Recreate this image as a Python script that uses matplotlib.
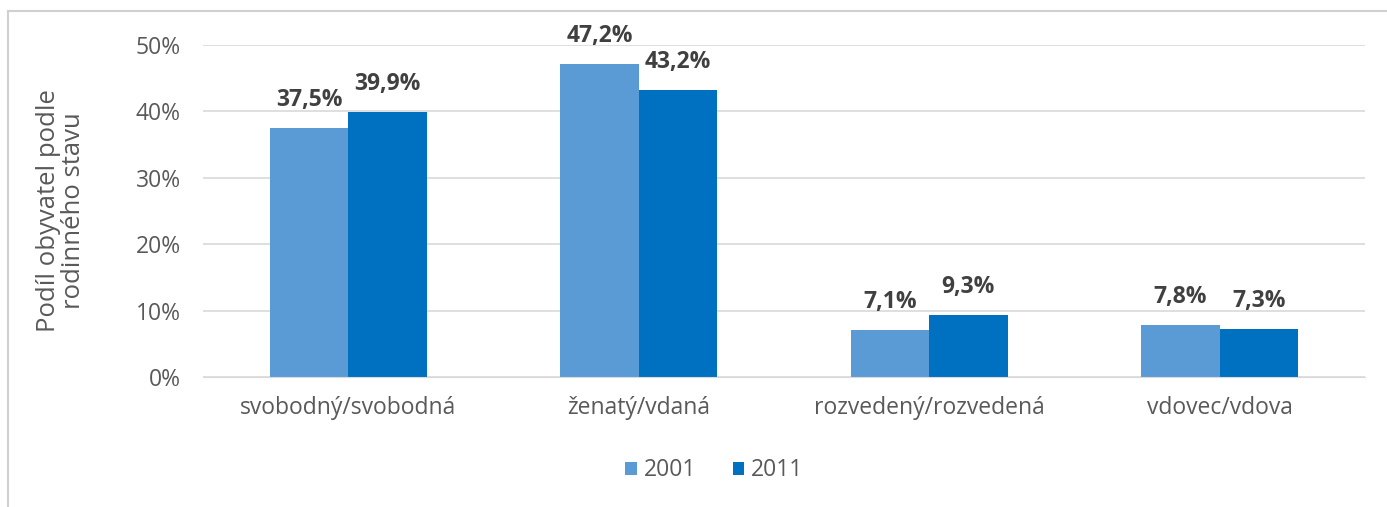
import numpy as np
import matplotlib
matplotlib.use('Agg')
import matplotlib.pyplot as plt
from matplotlib.lines import Line2D

categories = ['svobodný/svobodná', 'ženatý/vdaná', 'rozvedený/rozvedená', 'vdovec/vdova']
vals_2001 = [37.5, 47.2, 7.1, 7.8]
vals_2011 = [39.9, 43.2, 9.3, 7.3]
series = ['2001', '2011']
yticks = [0, 10, 20, 30, 40, 50]

plt.rcParams['font.family'] = ['Open Sans', 'DejaVu Sans']
c01 = '#5b9bd5'
c11 = '#0070c0'
txt = '#595959'

fig = plt.figure(figsize=(13.87, 5.07), dpi=100)
ax = fig.add_axes([0.1464, 0.2564, 0.8376, 0.6548])

x = np.arange(len(categories))
w = 0.27
b1 = ax.bar(x - w/2, vals_2001, w, color=c01, label=series[0])
b2 = ax.bar(x + w/2, vals_2011, w, color=c11, label=series[1])

for bars, vals in [(b1, vals_2001), (b2, vals_2011)]:
    for r, v in zip(bars, vals):
        ax.text(r.get_x() + r.get_width()/2, v + 2.4, ('%.1f%%' % v).replace('.', ','),
                ha='center', va='bottom', fontsize=16.5, fontweight='bold', color='#404040')

ax.set_xlim(-0.5, len(categories) - 0.5)
ax.set_ylim(0, 50)
ax.set_yticks(yticks)
ax.set_yticklabels(['%d%%' % t for t in yticks])
ax.set_xticks(x)
ax.set_xticklabels(categories)
ax.tick_params(axis='both', length=0, labelsize=16.5, colors=txt)
ax.tick_params(axis='y', pad=16)
ax.tick_params(axis='x', pad=14)
ax.grid(axis='y', color='#d9d9d9', linewidth=1.2)
ax.set_axisbelow(True)
for s in ax.spines.values():
    s.set_visible(False)
ax.spines['bottom'].set_visible(True)
ax.spines['bottom'].set_color('#d9d9d9')

fig.text(0.044, 0.585, 'Podíl obyvatel podle\nrodinného stavu', rotation=90,
         ha='center', va='center', fontsize=18.5, color=txt, linespacing=1.0)

fig.legend(handles=[b1, b2], labels=series, loc='center', bbox_to_anchor=(0.515, 0.072),
           ncol=2, frameon=False, fontsize=16.5, labelcolor=txt, handlelength=0.5,
           handleheight=0.5, handletextpad=0.3, columnspacing=1.6)

# outer chart border (top and left only visible)
fig.add_artist(Line2D([0.006, 1.0], [0.978, 0.978], color='#d0d0d0', linewidth=1.5))
fig.add_artist(Line2D([0.006, 0.006], [0.0, 0.978], color='#d0d0d0', linewidth=1.5))

fig.savefig('out.png', dpi=100)
